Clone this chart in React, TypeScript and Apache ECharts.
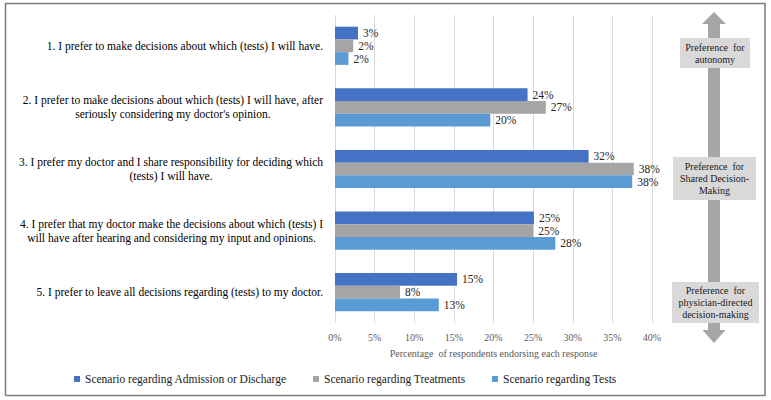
import React, { useEffect, useRef } from "react";
import * as echarts from "echarts";

const categories: string[] = [
  "1. I prefer to make decisions about which (tests) I will have.",
  "2. I prefer to make decisions about which (tests) I will have, after\nseriously considering my doctor's opinion.",
  "3. I prefer my doctor and I share responsibility for deciding which\n(tests) I will have.",
  "4. I prefer that my doctor make the decisions about which (tests) I\nwill have after hearing and considering my input and opinions.",
  "5. I prefer to leave all decisions regarding (tests) to my doctor.",
];

const seriesNames: string[] = [
  "Scenario regarding Admission or Discharge",
  "Scenario regarding Treatments",
  "Scenario regarding Tests",
];

const admissionValues: number[] = [2.9, 24.3, 32.0, 25.1, 15.4];
const treatmentValues: number[] = [2.3, 26.6, 37.7, 25.0, 8.2];
const testValues: number[] = [1.7, 19.6, 37.5, 27.8, 13.1];

const seriesColors: string[] = ["#4472C4", "#A5A5A5", "#5B9BD5"];

const xAxisName = "Percentage  of respondents endorsing each response";

const sideLabels: string[] = [
  "Preference  for\nautonomy",
  "Preference  for\nShared Decision-\nMaking",
  "Preference  for\nphysician-directed\ndecision-making",
];

const SERIF = "Liberation Serif";

export default function App() {
  const ref = useRef<HTMLDivElement>(null);

  useEffect(() => {
    if (!ref.current) return;
    const chart = echarts.init(ref.current, undefined, { renderer: "svg" });

    const allValues = [admissionValues, treatmentValues, testValues];

    const series = allValues.map((vals, i) => ({
      name: seriesNames[i],
      type: "bar",
      data: vals,
      barGap: "0%",
      barCategoryGap: "38%",
      itemStyle: { color: seriesColors[i] },
      label: {
        show: true,
        position: "right",
        distance: 5,
        formatter: (p: any) => Math.round(p.value) + "%",
        fontFamily: SERIF,
        fontSize: 11.5,
        color: "#262626",
      },
    }));

    const legendLefts = [74, 313, 492];
    const legends = seriesNames.map((n, i) => ({
      data: [n],
      left: legendLefts[i],
      top: 373,
      icon: "rect",
      itemWidth: 6,
      itemHeight: 6,
      padding: 0,
      selectedMode: false,
      textStyle: { fontFamily: SERIF, fontSize: 11.5, color: "#1a1a1a" },
    }));

    const arrowColor = "#A6A6A6";
    const boxColor = "#D9D9D9";
    const boxes = [
      { x: 680, y: 38, w: 70, h: 30 },
      { x: 673, y: 157, w: 83, h: 43 },
      { x: 672, y: 282, w: 87, h: 41 },
    ];

    const graphic: any[] = [
      {
        type: "rect",
        shape: { x: 5.5, y: 3.5, width: 759.5, height: 392 },
        style: { fill: "none", stroke: "#7F7F7F", lineWidth: 1.5 },
        z: 10,
      },
      {
        type: "rect",
        shape: { x: 708, y: 23.5, width: 12, height: 307 },
        style: { fill: arrowColor },
      },
      {
        type: "polygon",
        shape: { points: [[702, 24], [714, 12], [726, 24]] },
        style: { fill: arrowColor },
      },
      {
        type: "polygon",
        shape: { points: [[702.5, 330], [714, 343], [725.5, 330]] },
        style: { fill: arrowColor },
      },
    ];
    boxes.forEach((b, i) => {
      graphic.push({
        type: "rect",
        shape: { x: b.x, y: b.y, width: b.w, height: b.h },
        style: { fill: boxColor },
        z: 2,
      });
      graphic.push({
        type: "text",
        x: b.x + b.w / 2,
        y: b.y + b.h / 2,
        z: 3,
        style: {
          text: sideLabels[i],
          align: "center",
          verticalAlign: "middle",
          fontFamily: SERIF,
          fontSize: 10,
          lineHeight: 12,
          fill: "#1a1a1a",
        },
      });
    });

    chart.setOption({
      animation: false,
      backgroundColor: "#ffffff",
      textStyle: { fontFamily: SERIF },
      grid: { left: 335, top: 15, width: 317, height: 308, containLabel: false },
      legend: legends,
      xAxis: {
        type: "value",
        min: 0,
        max: 40,
        interval: 5,
        name: xAxisName,
        nameLocation: "middle",
        nameGap: 25,
        nameTextStyle: { fontFamily: SERIF, fontSize: 10, color: "#595959" },
        axisLine: { show: false },
        axisTick: { show: false },
        axisLabel: {
          formatter: "{value}%",
          fontFamily: SERIF,
          fontSize: 10,
          color: "#595959",
          margin: 9,
        },
        splitLine: { show: true, lineStyle: { color: "#D9D9D9", width: 1 } },
      },
      yAxis: {
        type: "category",
        data: categories,
        inverse: true,
        axisLine: { show: false },
        axisTick: { show: false },
        axisLabel: {
          margin: 12,
          align: "right",
          fontFamily: SERIF,
          fontSize: 11.5,
          lineHeight: 14,
          color: "#000000",
          formatter: (v: string) =>
            v
              .split("\n")
              .map((s) => "{c|" + s + "}")
              .join("\n"),
          rich: {
            c: {
              align: "center",
              fontFamily: SERIF,
              fontSize: 11.5,
              lineHeight: 14,
              color: "#000000",
            },
          },
        },
      },
      series,
      graphic,
    });

    return () => chart.dispose();
  }, []);

  return (
    <div
      ref={ref}
      style={{ position: "absolute", left: 0, top: 0, width: 771, height: 400 }}
    />
  );
}
